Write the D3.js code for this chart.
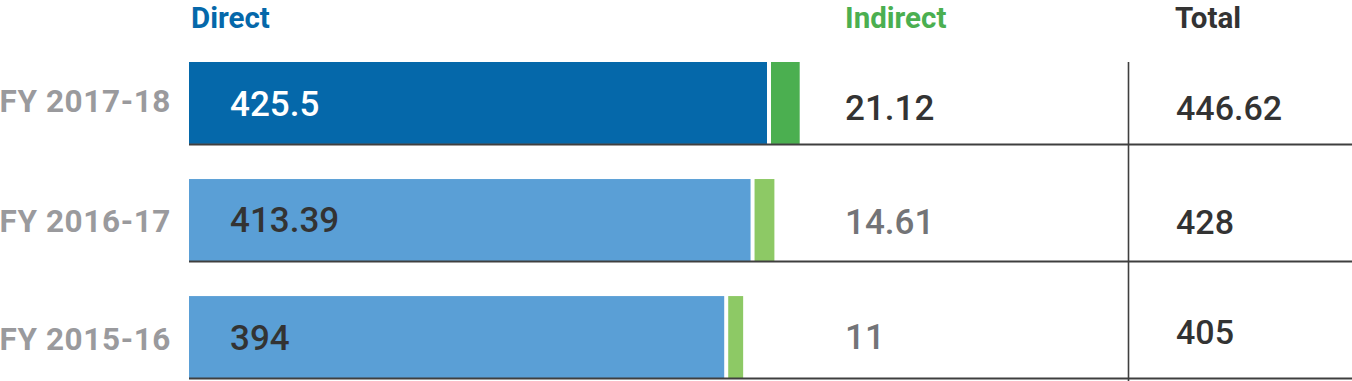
<!DOCTYPE html>
<html>
<head>
<meta charset="utf-8">
<script src="https://cdn.jsdelivr.net/npm/d3@7"></script>
<style>
  html, body { margin: 0; padding: 0; background: #ffffff; }
  svg { display: block; }
  text { font-family: Roboto, "Open Sans", "DejaVu Sans", sans-serif; }
</style>
</head>
<body>
<svg id="chart" width="1352" height="381"></svg>
<script>
// ---- data ----
const categories = ["FY 2017-18", "FY 2016-17", "FY 2015-16"];
const directValues = [425.5, 413.39, 394];
const indirectValues = [21.12, 14.61, 11];
const totalValues = [446.62, 428, 405];
const directLabels = ["425.5", "413.39", "394"];
const indirectLabels = ["21.12", "14.61", "11"];
const totalLabels = ["446.62", "428", "405"];
const headers = ["Direct", "Indirect", "Total"];

// ---- styles ----
const directColors = ["#0568aa", "#5a9fd6", "#5a9fd6"];
const indirectColors = ["#4baf50", "#8dc965", "#8dc965"];
const directTextColors = ["#ffffff", "#333333", "#333333"];
const indirectTextColors = ["#333333", "#737477", "#737477"];
const headerColors = ["#0568aa", "#4baf50", "#333333"];
const labelColor = "#9a9a9d";
const lineColor = "#3f3f3f";

const svg = d3.select("#chart");

const x = d3.scaleLinear().domain([0, 500]).range([189, 868.2]);
const y = d3.scaleBand().domain(categories).range([62, 378]).paddingInner(0.3).paddingOuter(0);
const bw = y.bandwidth();
const gap = 4;

const rows = categories.map((c, i) => ({
  cat: c, i,
  direct: directValues[i], indirect: indirectValues[i], total: totalValues[i]
}));

// direct bars
svg.selectAll("rect.direct").data(rows).join("rect")
  .attr("class", "direct")
  .attr("x", x(0))
  .attr("y", d => y(d.cat))
  .attr("width", d => x(d.direct) - x(0))
  .attr("height", bw)
  .attr("fill", d => directColors[d.i]);

// indirect bars
svg.selectAll("rect.indirect").data(rows).join("rect")
  .attr("class", "indirect")
  .attr("x", d => x(d.direct) + gap)
  .attr("y", d => y(d.cat))
  .attr("width", d => x(d.indirect) - x(0))
  .attr("height", bw)
  .attr("fill", d => indirectColors[d.i]);

// horizontal rules
svg.selectAll("line.row").data(rows).join("line")
  .attr("class", "row")
  .attr("x1", x(0)).attr("x2", 1352)
  .attr("y1", d => y(d.cat) + bw + 0.5)
  .attr("y2", d => y(d.cat) + bw + 0.5)
  .attr("stroke", lineColor).attr("stroke-width", 2);

// vertical rule
svg.append("line")
  .attr("x1", 1128.5).attr("x2", 1128.5)
  .attr("y1", y(categories[0])).attr("y2", 381)
  .attr("stroke", lineColor).attr("stroke-width", 1.6);

// headers
const headerX = [191, 845, 1175];
svg.selectAll("text.header").data(headers).join("text")
  .attr("class", "header")
  .attr("x", (d, i) => headerX[i])
  .attr("y", 27.5)
  .attr("font-size", 29.5)
  .attr("font-weight", 700)
  .attr("fill", (d, i) => headerColors[i])
  .text(d => d);

// row labels
const mid = d => y(d.cat) + bw / 2;
const rowOff = [9, 12, 12.5];
svg.selectAll("text.cat").data(rows).join("text")
  .attr("class", "cat")
  .attr("x", 171)
  .attr("y", d => mid(d) + rowOff[d.i])
  .attr("text-anchor", "end")
  .attr("font-size", 31.5)
  .attr("font-weight", 700)
  .attr("letter-spacing", 0.6)
  .attr("fill", labelColor)
  .text(d => d.cat);

// direct value labels
const inOff = [13, 12, 12.5];
svg.selectAll("text.dval").data(rows).join("text")
  .attr("class", "dval")
  .attr("x", 230)
  .attr("y", d => mid(d) + inOff[d.i])
  .attr("font-size", 35)
  .attr("font-weight", 500)
  .attr("fill", d => directTextColors[d.i])
  .text(d => directLabels[d.i]);

// indirect value labels
const indOff = [17, 13.5, 11.5];
svg.selectAll("text.ival").data(rows).join("text")
  .attr("class", "ival")
  .attr("x", 845)
  .attr("y", d => mid(d) + indOff[d.i])
  .attr("font-size", 35)
  .attr("font-weight", 500)
  .attr("fill", d => indirectTextColors[d.i])
  .text(d => indirectLabels[d.i]);

// total labels
const totOff = [17.5, 13.5, 6.5];
svg.selectAll("text.tval").data(rows).join("text")
  .attr("class", "tval")
  .attr("x", 1176)
  .attr("y", d => mid(d) + totOff[d.i])
  .attr("font-size", 34)
  .attr("font-weight", 500)
  .attr("fill", "#333333")
  .text(d => totalLabels[d.i]);
</script>
</body>
</html>
